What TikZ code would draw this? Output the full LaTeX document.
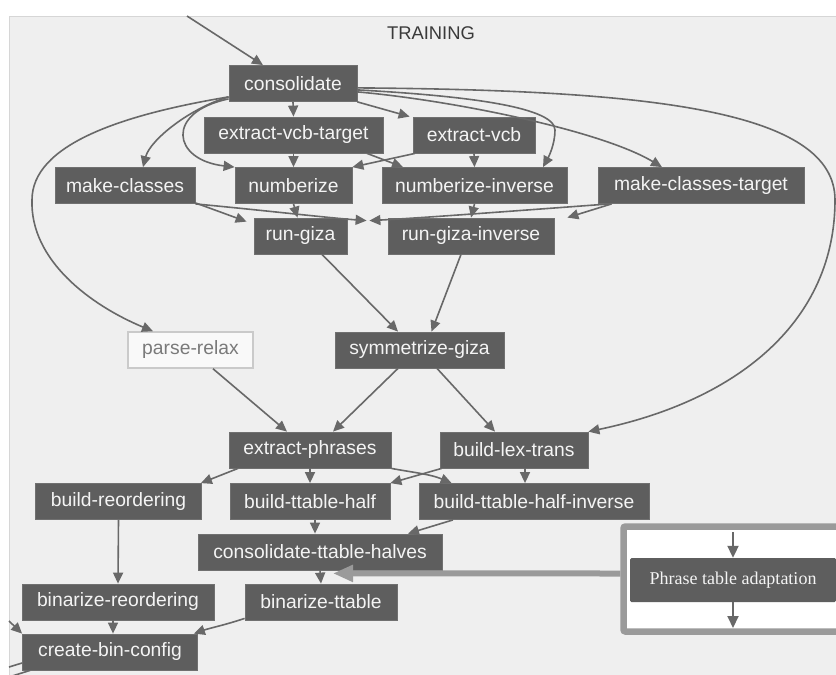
\documentclass[tikz,border=0pt]{standalone}
\usepackage{fontspec}
\setmainfont{Liberation Sans}
\newfontfamily\adaptfont{Liberation Serif}
\usetikzlibrary{arrows.meta}

\definecolor{panelbg}{HTML}{EFEFEF}
\definecolor{panelline}{HTML}{D6D6D6}
\definecolor{stepfill}{HTML}{5E5E5E}
\definecolor{stepline}{HTML}{707070}
\definecolor{steptext}{HTML}{F4F4F4}
\definecolor{edgegray}{HTML}{686868}
\definecolor{framegray}{HTML}{9A9A9A}
\definecolor{idletext}{HTML}{7A7A7A}
\definecolor{idleline}{HTML}{CACACA}
\definecolor{titletext}{HTML}{3A3A3A}

\tikzset{
  stepbox/.style={rectangle, fill=stepfill, draw=stepline, line width=0.8pt,
    text=steptext, inner sep=0pt, minimum height=36pt,
    font=\fontsize{19.3}{22}\selectfont},
  idlebox/.style={stepbox, fill=white!60!panelbg, draw=idleline, line width=1.5pt, text=idletext},
  dep/.style={draw=edgegray, line width=1.6pt, -{Triangle[length=11pt,width=10pt]}},
  plainedge/.style={draw=edgegray, line width=1.6pt},
  feed/.style={draw=framegray, line width=6pt, -{Triangle[length=20pt,width=16pt]}},
  inner/.style={draw=edgegray, line width=2pt, -{Triangle[length=12pt,width=11pt]}},
}

\begin{document}
\begin{tikzpicture}[x=1pt,y=-1pt]
\clip (0,0) rectangle (836,675);
\fill[white] (0,0) rectangle (836,675);

% stage panel
\fill[panelbg] (9,16) rectangle (836,675);
\draw[panelline, line width=1pt] (836,16) -- (9,16) -- (9,675);
\node[font=\fontsize{18.4}{20}\selectfont, text=titletext] (title) at (431,33) {TRAINING};

% steps
\node[stepbox, minimum width=128pt] (cons)  at (293,83.5)   {consolidate};
\node[stepbox, minimum width=179pt] (evt)   at (293.5,135)  {extract-vcb-target};
\node[stepbox, minimum width=122pt] (ev)    at (474,135)    {extract-vcb};
\node[stepbox, minimum width=140pt] (mc)    at (125,185.5)  {make-classes};
\node[stepbox, minimum width=117pt] (nz)    at (293.5,185.5){numberize};
\node[stepbox, minimum width=185pt] (nzi)   at (474.5,185.5){numberize-inverse};
\node[stepbox, minimum width=206pt] (mct)   at (701,185.5)  {make-classes-target};
\node[stepbox, minimum width=93pt]  (rg)    at (300.5,236)  {run-giza};
\node[stepbox, minimum width=166pt] (rgi)   at (471,236)    {run-giza-inverse};
\node[idlebox, minimum width=125pt] (pr)    at (190.5,350)  {parse-relax};
\node[stepbox, minimum width=169pt] (sg)    at (419.5,350)  {symmetrize-giza};
\node[stepbox, minimum width=162pt] (ep)    at (310,450)    {extract-phrases};
\node[stepbox, minimum width=148pt] (blt)   at (514,450)    {build-lex-trans};
\node[stepbox, minimum width=166pt] (br)    at (118.5,501.5){build-reordering};
\node[stepbox, minimum width=160pt] (btth)  at (310,501.5)  {build-ttable-half};
\node[stepbox, minimum width=230pt] (btthi) at (534,501.5)  {build-ttable-half-inverse};
\node[stepbox, minimum width=244pt] (cth)   at (320,552)    {consolidate-ttable-halves};
\node[stepbox, minimum width=192pt] (binr)  at (118,602)    {binarize-reordering};
\node[stepbox, minimum width=152pt] (bt)    at (321,602)    {binarize-ttable};
\node[stepbox, minimum width=175pt] (cbc)   at (110,652)    {create-bin-config};

% loose ends at the panel border
\coordinate (entry)     at (187,16);
\coordinate (westin)    at (9,621);
\coordinate (westoutA)  at (9,667);
\coordinate (westoutB)  at (9,677);

% dependencies
\draw[dep] (entry) -- ([xshift=-30pt]cons.north);
\draw[dep] (cons.south) -- (evt.north);
\draw[dep] (cons.south east) -- ([xshift=-3pt]ev.north west);
\draw[dep] ([yshift=5pt]cons.south west) .. controls (190,108) and (150,140) .. ([xshift=18pt]mc.north);
\draw[dep] ([yshift=3pt]cons.south west) .. controls (165,112) and (172,160) .. (nz.north west);
\draw[dep] ([yshift=5pt]cons.south west) .. controls (120,115) and (32,145) .. (32,200)
           .. controls (30,260) and (90,305) .. ([xshift=-37.5pt]pr.north);
\draw[dep] ([yshift=12pt]cons.south east) .. controls (450,95) and (555,105) .. (555,130)
           .. controls (555,145) and (548,158) .. ([xshift=68.5pt]nzi.north);
\draw[dep] ([yshift=10pt]cons.south east) .. controls (450,100) and (600,130) .. ([xshift=-39pt]mct.north);
\draw[dep] ([yshift=14pt]cons.south east) .. controls (650,90) and (835,110) .. (835,200)
           .. controls (835,320) and (740,400) .. (blt.north east);

\draw[dep] (evt.south) -- (nz.north);
\draw[dep] ([xshift=73.5pt]evt.south) -- ([xshift=-71.5pt]nzi.north);
\draw[dep] (ev.south) -- (nzi.north);
\draw[dep] ([xshift=-59pt]ev.south) -- (nz.north east);

\draw[dep] ([yshift=1pt]mc.south east) -- ([xshift=-7pt,yshift=-4pt]rg.north west);
\draw[dep] (mc.south east) .. controls (260,210) and (330,218) .. ([xshift=-21pt,yshift=-3pt]rgi.north west);
\draw[dep] ([xshift=12pt]mct.south west) .. controls (500,212) and (420,218) .. ([xshift=22pt,yshift=-3pt]rg.north east);
\draw[dep] ([xshift=14pt]mct.south west) -- ([xshift=13pt]rgi.north east);
\draw[dep] (nz.south) -- ([xshift=-3pt]rg.north);
\draw[dep] (nzi.south) -- (rgi.north);

\draw[dep] ([xshift=21.5pt]rg.south) -- ([xshift=-21.5pt]sg.north);
\draw[dep] ([xshift=-10pt]rgi.south) -- ([xshift=12pt]sg.north);

\draw[dep] ([xshift=22.5pt]pr.south) -- ([xshift=-23pt]ep.north);
\draw[dep] ([xshift=-21.5pt]sg.south) -- ([xshift=23pt]ep.north);
\draw[dep] ([xshift=17.5pt]sg.south) -- ([xshift=-19pt]blt.north);

\draw[dep] ([xshift=-72pt]ep.south) -- ([xshift=-1pt]br.north east);
\draw[dep] (ep.south) -- (btth.north);
\draw[dep] (ep.south east) .. controls (410,472) and (430,474) .. ([xshift=33pt]btthi.north west);
\draw[dep] ([xshift=2pt]blt.south west) -- (btth.north east);
\draw[dep] ([xshift=11pt]blt.south) -- ([xshift=-9pt]btthi.north);

\draw[dep] ([xshift=5pt]btth.south) -- ([xshift=-5pt]cth.north);
\draw[dep] ([xshift=-81pt]btthi.south) -- ([xshift=88pt]cth.north);
\draw[dep] (br.south) -- (binr.north);
\draw[dep] (cth.south) -- (bt.north);
\draw[dep] ([xshift=-5pt]binr.south) -- ([xshift=3pt]cbc.north);
\draw[dep] ([yshift=2pt]bt.south west) .. controls (225,625) and (210,628) .. ([xshift=-4pt]cbc.north east);
\draw[dep] (westin) -- (cbc.north west);
\draw[plainedge] ([yshift=-11pt]cbc.west) -- (westoutA);
\draw[plainedge] ([xshift=8pt]cbc.south west) -- (westoutB);

% phrase table adaptation insert
\node[draw=framegray, line width=6.5pt, fill=white, rounded corners=2pt,
      minimum width=226.5pt, minimum height=105pt, inner sep=0pt] (adapt) at (736.75,579) {};
\node[rectangle, fill=stepfill, rounded corners=1.5pt, text=steptext, inner sep=0pt,
      minimum width=206pt, minimum height=44pt,
      font=\adaptfont\fontsize{18}{20}\selectfont] (pta) at (733,580) {Phrase table adaptation};
\coordinate (ptain)  at (733,532);
\coordinate (ptaout) at (733,628);
\draw[inner] (ptain) -- (pta.north);
\draw[inner] (pta.south) -- (ptaout);
\draw[feed] ([yshift=5.5pt]adapt.west) -- ([xshift=13pt,yshift=-3pt]cth.south);
\end{tikzpicture}
\end{document}
